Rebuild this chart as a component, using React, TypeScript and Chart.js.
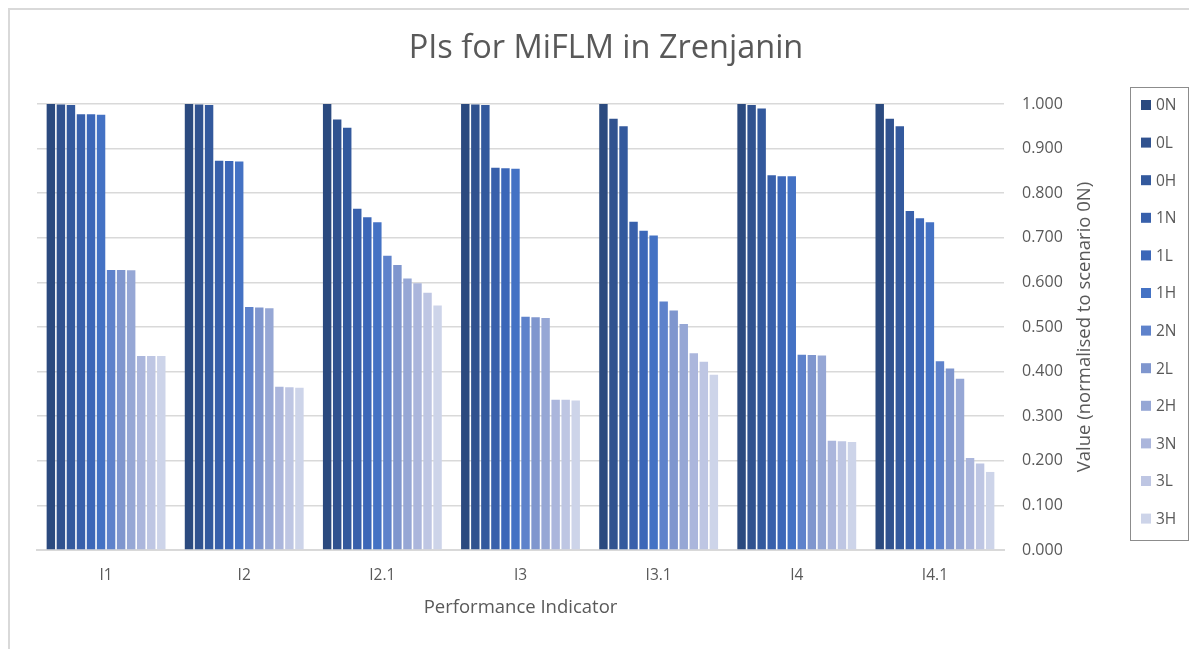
import React, { useEffect, useRef } from "react";
import { Chart, registerables } from "chart.js";

Chart.register(...registerables);

const categories = ["I1", "I2", "I2.1", "I3", "I3.1", "I4", "I4.1"];
const seriesNames = ["0N", "0L", "0H", "1N", "1L", "1H", "2N", "2L", "2H", "3N", "3L", "3H"];

const s0N = [1.0, 1.0, 1.0, 1.0, 1.0, 1.0, 1.0];
const s0L = [0.999, 0.999, 0.965, 0.999, 0.967, 0.998, 0.967];
const s0H = [0.998, 0.998, 0.947, 0.998, 0.95, 0.99, 0.95];
const s1N = [0.977, 0.873, 0.765, 0.857, 0.736, 0.84, 0.76];
const s1L = [0.977, 0.872, 0.746, 0.856, 0.716, 0.838, 0.744];
const s1H = [0.976, 0.871, 0.735, 0.855, 0.705, 0.838, 0.735];
const s2N = [0.628, 0.545, 0.66, 0.523, 0.557, 0.438, 0.423];
const s2L = [0.628, 0.544, 0.639, 0.522, 0.537, 0.437, 0.407];
const s2H = [0.627, 0.542, 0.609, 0.52, 0.507, 0.436, 0.384];
const s3N = [0.435, 0.366, 0.598, 0.337, 0.441, 0.245, 0.206];
const s3L = [0.435, 0.365, 0.577, 0.337, 0.422, 0.244, 0.194];
const s3H = [0.435, 0.364, 0.548, 0.335, 0.393, 0.242, 0.175];

const seriesValues = [s0N, s0L, s0H, s1N, s1L, s1H, s2N, s2L, s2H, s3N, s3L, s3H];

const colors = [
  "#2B4A7F", "#30528F", "#33599D", "#3860AB", "#3C67B8", "#4472C4",
  "#5E82CB", "#7F96CE", "#96A7D5", "#ABB6DC", "#BEC6E3", "#CDD4E9",
];

const yTicks = [0, 0.1, 0.2, 0.3, 0.4, 0.5, 0.6, 0.7, 0.8, 0.9, 1.0];

const titleText = "PIs for MiFLM in Zrenjanin";
const xTitleText = "Performance Indicator";
const yTitleText = "Value (normalised to scenario 0N)";

const FONT = "'Open Sans', sans-serif";
const TEXT_COLOR = "#595959";

const decorPlugin = {
  id: "decor",
  afterDraw(chart: any) {
    const ctx = chart.ctx as CanvasRenderingContext2D;
    const ca = chart.chartArea;
    ctx.save();
    // Title
    ctx.fillStyle = TEXT_COLOR;
    ctx.font = `32.5px ${FONT}`;
    ctx.textAlign = "center";
    ctx.textBaseline = "middle";
    ctx.fillText(titleText, 596, 39);
    // X title
    ctx.font = `18.5px ${FONT}`;
    ctx.fillText(xTitleText, (ca.left + ca.right) / 2, 598);
    // Y title (rotated, reading bottom to top)
    ctx.save();
    ctx.translate(1075, (ca.top + ca.bottom) / 2);
    ctx.rotate(-Math.PI / 2);
    ctx.fillText(yTitleText, 0, 0);
    ctx.restore();
    // Legend
    const lx = 1120, ly = 77, lw = 58, lh = 453;
    ctx.strokeStyle = "#8c8c8c";
    ctx.lineWidth = 1;
    ctx.strokeRect(lx + 0.5, ly + 0.5, lw, lh);
    ctx.textAlign = "left";
    ctx.font = `15.5px ${FONT}`;
    seriesNames.forEach((name, i) => {
      const cy = 95 + i * 37.6;
      ctx.fillStyle = colors[i];
      ctx.fillRect(1131, cy - 5, 10, 10);
      ctx.fillStyle = TEXT_COLOR;
      ctx.fillText(name, 1146, cy + 1);
    });
    ctx.restore();
  },
};

export default function App() {
  const ref = useRef<HTMLCanvasElement>(null);
  useEffect(() => {
    if (!ref.current) return;
    const chart = new Chart(ref.current, {
      type: "bar",
      data: {
        labels: categories,
        datasets: seriesNames.map((name, i) => ({
          label: name,
          data: seriesValues[i],
          backgroundColor: colors[i],
          borderWidth: 0,
          barPercentage: 0.84,
          categoryPercentage: 0.872,
        })),
      },
      options: {
        animation: false,
        responsive: false,
        maintainAspectRatio: false,
        layout: { padding: { left: 27, top: 94, right: 118, bottom: 39 } },
        plugins: {
          legend: { display: false },
          title: { display: false },
          tooltip: { enabled: false },
        },
        scales: {
          x: {
            grid: { display: false, drawTicks: false },
            border: { display: true, color: "#d9d9d9", width: 2 },
            ticks: { color: TEXT_COLOR, font: { family: FONT, size: 15.5 }, padding: 16 },
            afterFit: (s: any) => { s.height = 60; },
          },
          y: {
            position: "right",
            min: 0,
            max: 1,
            afterBuildTicks: (s: any) => { s.ticks = yTicks.map((v) => ({ value: v })); },
            grid: { color: "#d9d9d9", lineWidth: 1.5, drawTicks: false },
            border: { display: false },
            ticks: {
              color: TEXT_COLOR,
              font: { family: FONT, size: 16 },
              padding: 18,
              callback: (v: any) => Number(v).toFixed(3),
            },
            afterFit: (s: any) => { s.width = 75; },
          },
        },
      },
      plugins: [decorPlugin],
    });
    return () => chart.destroy();
  }, []);
  return (
    <div
      style={{
        width: 1189,
        height: 641,
        borderLeft: "2px solid #d9d9d9",
        borderTop: "2px solid #d9d9d9",
        boxSizing: "border-box",
        background: "#fff",
      }}
    >
      <canvas ref={ref} width={1187} height={639} style={{ display: "block" }} />
    </div>
  );
}
